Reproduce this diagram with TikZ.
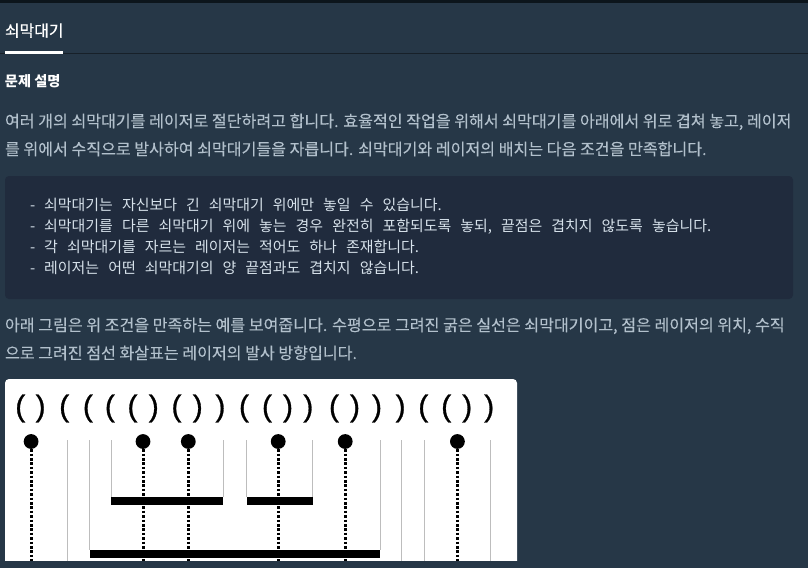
\documentclass[tikz,border=0pt]{standalone}
\usepackage{fontspec}
\setmainfont{Noto Sans CJK KR}
\newfontfamily\codefont[WordSpace=2.7]{Noto Sans CJK KR}
\newfontfamily\titlefont[FakeBold=0.5]{Noto Sans CJK KR}
\newfontfamily\bodyfont[FakeBold=0.15]{Noto Sans CJK KR}
\newfontfamily\parenfont[FakeBold=0.9]{Liberation Sans}
\definecolor{pagebg}{HTML}{263747}
\definecolor{topbar}{HTML}{0C151C}
\definecolor{rulecol}{HTML}{172029}
\definecolor{boxbg}{HTML}{202B3D}
\definecolor{bodycol}{HTML}{B2C0CC}
\definecolor{codecol}{HTML}{D7E2EB}
\definecolor{graycol}{HTML}{BDBDBD}
\tikzset{
  x=1pt,y=-1pt,
  txt/.style={anchor=base west,inner sep=0pt,outer sep=0pt},
  title/.style={txt,text=white,font=\fontsize{15.9}{18}\titlefont},
  head/.style={txt,text=white,font=\fontsize{14.2}{16}\selectfont\bfseries},
  body/.style={txt,text=bodycol,font=\fontsize{16.1}{18}\bodyfont},
  code/.style={txt,text=codecol,font=\fontsize{14.95}{18}\codefont},
  paren/.style={inner sep=0pt,text=black,font=\fontsize{30}{31}\parenfont},
  dot/.style={circle,fill=black,inner sep=0pt,minimum size=14.8pt},
  laser/.style={black,line width=3pt,dash pattern=on 2.6pt off 1.8pt},
  guide/.style={graycol,line width=1pt},
  bar/.style={fill=black,draw=none,inner sep=0pt,anchor=north west}
}
\begin{document}
\begin{tikzpicture}
\useasboundingbox (0,0) rectangle (808,568);
\fill[pagebg] (0,0) rectangle (808,568);
\fill[topbar] (0,0) rectangle (808,3);
\fill[rulecol] (0,52.6) rectangle (808,53.6);
\fill[white] (5,51) rectangle (63,53.8);
\node[title] (tab) at (5,36.5) {쇠막대기};
\node[head] (heading) at (5,86) {문제 설명};
\node[body] (l1) at (5,127) {여러 개의 쇠막대기를 레이저로 절단하려고 합니다. 효율적인 작업을 위해서 쇠막대기를 아래에서 위로 겹쳐 놓고, 레이저};
\node[body] (l2) at (5,155) {를 위에서 수직으로 발사하여 쇠막대기들을 자릅니다. 쇠막대기와 레이저의 배치는 다음 조건을 만족합니다.};
\fill[boxbg,rounded corners=4pt] (5,176) rectangle (793,299);
\node[code] (c1) at (30,210.3) {- 쇠막대기는 자신보다 긴 쇠막대기 위에만 놓일 수 있습니다.};
\node[code] (c2) at (30,231.3) {- 쇠막대기를 다른 쇠막대기 위에 놓는 경우 완전히 포함되도록 놓되, 끝점은 겹치지 않도록 놓습니다.};
\node[code] (c3) at (30,252.3) {- 각 쇠막대기를 자르는 레이저는 적어도 하나 존재합니다.};
\node[code] (c4) at (30,273.3) {- 레이저는 어떤 쇠막대기의 양 끝점과도 겹치지 않습니다.};
\node[body] (l3) at (5,331) {아래 그림은 위 조건을 만족하는 예를 보여줍니다. 수평으로 그려진 굵은 실선은 쇠막대기이고, 점은 레이저의 위치, 수직};
\node[body] (l4) at (5,359) {으로 그려진 점선 화살표는 레이저의 발사 방향입니다.};
\begin{scope}
\clip (0,0) rectangle (808,560);
\fill[white,rounded corners=4pt] (5,379) rectangle (517,600);
\foreach \n/\px/\ch in {1/20.3/(,2/40.6/),3/64.2/(,4/87.9/(,5/109.9/(,6/132.5/(,7/153.8/),8/176.5/(,9/197.8/),10/220.4/),11/244/(,12/267/(,13/288/),14/308.3/),15/334/(,16/355/),17/377/),18/400.6/),19/423.3/(,20/446.2/(,21/467.2/),22/489.2/)}
  \node[paren] (p\n) at (\px,408.5) {\ch};
\coordinate (top) at (0,440);
\coordinate (low) at (0,562);
% bars
\node[bar,minimum width=111.8pt,minimum height=7.6pt] (b1) at (111.2,497) {};
\node[bar,minimum width=65.9pt,minimum height=7.6pt] (b2) at (246.5,497) {};
\node[bar,minimum width=290.4pt,minimum height=7.6pt] (b3) at (89.6,550) {};
% guides
\draw[guide] (b1.north west |- top) -- (b1.north west);
\draw[guide] (b1.north east |- top) -- (b1.north east);
\draw[guide] (b2.north west |- top) -- (b2.north west);
\draw[guide] (b2.north east |- top) -- (b2.north east);
\draw[guide] (b3.north west |- top) -- (b3.north west);
\draw[guide] (b3.north east |- top) -- (b3.north east);
\foreach \gx in {67.3,401.3,424.6,490.5}
  \draw[guide] (\gx,440) -- (\gx,562);
% lasers
\foreach \n/\dx in {1/31.1,2/143,3/188.3,4/278.2,5/345.2,6/457.4}{
  \node[dot] (d\n) at (\dx,441.5) {};
  \coordinate (e\n) at (d\n |- low);
  \draw[laser] (d\n.south) -- (e\n);
}
\end{scope}
\end{tikzpicture}
\end{document}
